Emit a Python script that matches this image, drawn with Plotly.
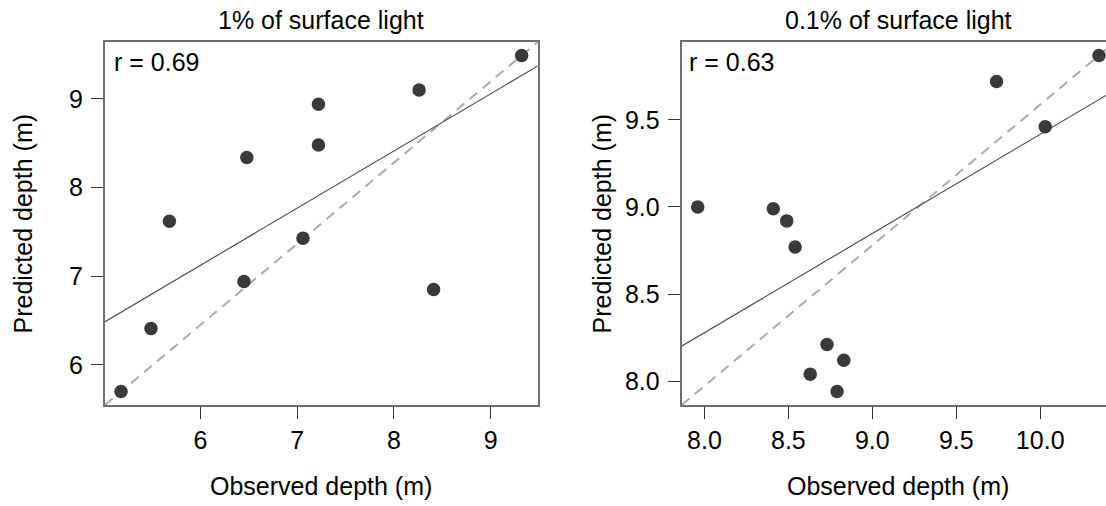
import numpy as np
import plotly.graph_objects as go

W, H = 1106, 506

# ---------------- data ----------------
obs_1pct = [5.18, 5.49, 5.68, 6.45, 6.48, 7.06, 7.22, 7.22, 8.26, 8.41, 9.32]
pred_1pct = [5.70, 6.41, 7.62, 6.94, 8.34, 7.43, 8.48, 8.94, 9.10, 6.85, 9.49]

obs_01pct = [7.96, 8.41, 8.49, 8.54, 8.73, 8.83, 8.63, 8.79, 9.74, 10.03, 10.35]
pred_01pct = [9.00, 8.99, 8.92, 8.77, 8.21, 8.12, 8.04, 7.94, 9.72, 9.46, 9.87]

titles = ["1% of surface light", "0.1% of surface light"]
r_labels = ["r = 0.69", "r = 0.63"]

ticks_1pct_x = [6, 7, 8, 9]
ticks_1pct_y = [6, 7, 8, 9]
ticks_01pct_x = [8.0, 8.5, 9.0, 9.5, 10.0]
ticks_01pct_y = [8.0, 8.5, 9.0, 9.5]

x_label = "Observed depth (m)"
y_label = "Predicted depth (m)"

# ---------------- helpers ----------------
def r_range(v):
    lo, hi = min(v), max(v)
    d = (hi - lo) * 0.04
    return lo - d, hi + d

def px(x):
    return x / W

def py(y):
    return 1 - y / H

FONT = "Liberation Sans, Arial, Helvetica, sans-serif"
PT_COLOR = "#3a3a3a"
BOX_COLOR = "#6e6e6e"

fig = go.Figure()

panels = [
    dict(x=obs_1pct, y=pred_1pct, xa="x", ya="y"),
    dict(x=obs_01pct, y=pred_01pct, xa="x2", ya="y2"),
]

ranges = []
for p in panels:
    x = np.array(p["x"]); y = np.array(p["y"])
    xlo, xhi = r_range(p["x"])
    ylo, yhi = r_range(p["y"])
    ranges.append((xlo, xhi, ylo, yhi))
    # diagonal of the plotting region
    fig.add_trace(go.Scatter(x=[xlo, xhi], y=[ylo, yhi], mode="lines",
                             line=dict(color="#ababab", width=2, dash="10px,7px"),
                             xaxis=p["xa"], yaxis=p["ya"], showlegend=False,
                             hoverinfo="skip"))
    # regression line
    b, a = np.polyfit(x, y, 1)
    xl = np.array([xlo - 1, xhi + 1])
    fig.add_trace(go.Scatter(x=xl, y=a + b * xl, mode="lines",
                             line=dict(color="#505050", width=1.2),
                             xaxis=p["xa"], yaxis=p["ya"], showlegend=False,
                             hoverinfo="skip"))
    fig.add_trace(go.Scatter(x=p["x"], y=p["y"], mode="markers",
                             marker=dict(color=PT_COLOR, size=13.5, line=dict(width=0)),
                             xaxis=p["xa"], yaxis=p["ya"], showlegend=False,
                             cliponaxis=False))

# geometry (pixels)
L1, R1 = 105, 537.7
L2, R2_full = 681.7, 1115
TOP, BOT = 42, 405

(x1lo, x1hi, y1lo, y1hi), (x2lo, x2hi, y2lo, y2hi) = ranges
# right panel is cut by the image edge
x2vis = x2lo + (x2hi - x2lo) * (W - L2) / (R2_full - L2)

axis_common = dict(showgrid=False, zeroline=False, showline=True, linecolor=BOX_COLOR,
                   linewidth=2, ticks="outside", ticklen=12, tickwidth=1.2,
                   tickcolor="#333333", tickfont=dict(family=FONT, size=25, color="black"))
XSO, YSO = 0, 3

fig.update_layout(
    width=W, height=H,
    margin=dict(l=0, r=0, t=0, b=0),
    paper_bgcolor="white", plot_bgcolor="white",
    xaxis=dict(domain=[px(L1), px(R1)], range=[x1lo, x1hi], tickvals=ticks_1pct_x,
               ticktext=[str(v) for v in ticks_1pct_x], mirror=True,
               ticklabelstandoff=XSO, anchor="y", **axis_common),
    yaxis=dict(domain=[py(BOT), py(TOP)], range=[y1lo, y1hi], tickvals=ticks_1pct_y,
               ticktext=[str(v) for v in ticks_1pct_y], mirror=True,
               ticklabelstandoff=YSO, anchor="x", **axis_common),
    xaxis2=dict(domain=[px(L2), 1.0], range=[x2lo, x2vis], tickvals=ticks_01pct_x,
                ticktext=[f"{v:.1f}" for v in ticks_01pct_x], mirror=True,
                ticklabelstandoff=XSO, anchor="y2", **axis_common),
    yaxis2=dict(domain=[py(BOT), py(TOP)], range=[y2lo, y2hi], tickvals=ticks_01pct_y,
                ticktext=[f"{v:.1f}" for v in ticks_01pct_y], mirror=False,
                ticklabelstandoff=YSO, anchor="x2", **axis_common),
)

ann = []
centers = [(L1 + R1) / 2, (L2 + R2_full) / 2]
for i, cx in enumerate(centers):
    ann.append(dict(x=px(cx), y=py(20), text=titles[i], showarrow=False,
                    xref="paper", yref="paper", xanchor="center", yanchor="middle",
                    font=dict(family=FONT, size=25, color="black")))
    ann.append(dict(x=px(cx), y=py(486), text=x_label, showarrow=False,
                    xref="paper", yref="paper", xanchor="center", yanchor="middle",
                    font=dict(family=FONT, size=25, color="black")))
ylab_x = [22, 601]
for i, lx in enumerate(ylab_x):
    ann.append(dict(x=px(lx), y=py((TOP + BOT) / 2), text=y_label, showarrow=False,
                    textangle=-90, xref="paper", yref="paper", xanchor="center",
                    yanchor="middle", font=dict(family=FONT, size=25, color="black")))
r_x = [112, 687]
for i, rx in enumerate(r_x):
    ann.append(dict(x=px(rx), y=py(62), text=r_labels[i], showarrow=False,
                    xref="paper", yref="paper", xanchor="left", yanchor="middle",
                    font=dict(family=FONT, size=25, color="black")))
fig.update_layout(annotations=ann)

fig.write_html("out.html")
